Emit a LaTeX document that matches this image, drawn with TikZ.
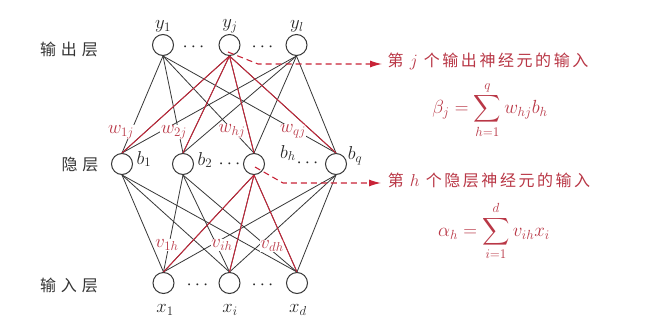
\documentclass[tikz,border=0pt]{standalone}
\usepackage{fontspec}
\usepackage{amsmath}
\usetikzlibrary{arrows.meta}
\newfontfamily\cjkwide[LetterSpace=30]{Noto Sans CJK SC}
\newfontfamily\cjkmid[LetterSpace=16]{Noto Sans CJK SC}
\definecolor{edgegray}{RGB}{55,55,55}
\definecolor{nnred}{RGB}{200,35,55}
\definecolor{txtred}{RGB}{185,55,70}
\begin{document}
\begin{tikzpicture}[x=1pt,y=-1pt,
  neuron/.style={circle,draw=edgegray,line width=1pt,minimum size=21pt,inner sep=0pt},
  conn/.style={draw=edgegray,line width=0.8pt},
  redconn/.style={draw=nnred,line width=0.9pt},
  mathlbl/.style={font=\fontsize{17.28}{20}\selectfont,text=black!85,inner sep=1pt,scale=1.08,transform shape},
  wlbl/.style={font=\fontsize{17.28}{20}\selectfont,text=txtred,fill=white,inner sep=0.6pt,scale=1.08,transform shape},
  layerlbl/.style={font=\cjkwide\fontsize{16}{18}\selectfont,text=black!80},
  redtxt/.style={font=\cjkmid\fontsize{16}{18}\selectfont,text=txtred,inner sep=0pt},
  formula/.style={font=\fontsize{17.28}{20}\selectfont,text=txtred,inner sep=0pt,scale=1.1,transform shape},
  pointer/.style={draw=nnred,line width=1.1pt,dash pattern=on 6pt off 4pt,-{Latex[length=12pt,width=7pt]}}
]
\useasboundingbox[fill=white] (0,0) rectangle (645,327);

% layer names
\node[layerlbl] (Lout) at (69,49) {输出层};
\node[layerlbl] (Lhid) at (80,165) {隐层};
\node[layerlbl] (Lin) at (69,285) {输入层};

% neurons
\node[neuron] (y1) at (163,45) {};
\node[neuron] (yj) at (229.5,45) {};
\node[neuron] (yl) at (296.5,45) {};
\node[neuron] (b1) at (122,164) {};
\node[neuron] (b2) at (183,164) {};
\node[neuron] (bh) at (254,164) {};
\node[neuron] (bq) at (336,164) {};
\node[neuron] (x1) at (163.5,283) {};
\node[neuron] (xi) at (229.5,283) {};
\node[neuron] (xd) at (297,283) {};

% gray connections
\foreach \o in {y1,yj,yl}
  \foreach \h in {b1,b2,bh,bq}
    \draw[conn] (\o.south) -- (\h.north);
\foreach \h in {b1,b2,bh,bq}
  \foreach \i in {x1,xi,xd}
    \draw[conn] (\h.south) -- (\i.north);

% weight labels
\node[wlbl] (w1) at (121,132) {$w_{1j}$};
\node[wlbl] (w2) at (174,132) {$w_{2j}$};
\node[wlbl] (wh) at (232,131) {$w_{hj}$};
\node[wlbl] (wq) at (293,131) {$w_{qj}$};
\node[wlbl] (v1) at (167,245) {$v_{1h}$};
\node[wlbl] (vi) at (222,245) {$v_{ih}$};
\node[wlbl] (vd) at (272,246) {$v_{dh}$};

% red connections
\foreach \h in {b1,b2,bh,bq}
  \draw[redconn] (yj.south) -- (\h.north);
\foreach \i in {x1,xi,xd}
  \draw[redconn] (bh.south) -- (\i.north);

% neuron labels
\node[mathlbl] (ly1) at (163,26) {$y_1$};
\node[mathlbl] (lyj) at (230,26) {$y_j$};
\node[mathlbl] (lyl) at (297,26) {$y_l$};
\node[mathlbl] (lx1) at (165,310) {$x_1$};
\node[mathlbl] (lxi) at (230,310) {$x_i$};
\node[mathlbl] (lxd) at (298,310) {$x_d$};
\node[mathlbl] (lb1) at (144,159) {$b_1$};
\node[mathlbl] (lb2) at (205,160) {$b_2$};
\node[mathlbl] (lbh) at (288,153) {$b_h$};
\node[mathlbl] (lbq) at (355,156) {$b_q$};

% dots
\node[mathlbl] (d1) at (195,47) {$\cdots$};
\node[mathlbl] (d2) at (264,47) {$\cdots$};
\node[mathlbl] (d3) at (231,164) {$\cdots$};
\node[mathlbl] (d4) at (309,163) {$\cdots$};
\node[mathlbl] (d5) at (199,285) {$\cdots$};
\node[mathlbl] (d6) at (264,285) {$\cdots$};

% annotations
\node[redtxt] (tj) at (488,61) {第 $j$ 个输出神经元的输入};
\node[redtxt] (th) at (489,180) {第 $h$ 个隐层神经元的输入};
\node[formula] (fb) at (490,110) {$\displaystyle \beta_j=\sum_{h=1}^{q} w_{hj}b_h$};
\node[formula] (fa) at (494,231) {$\displaystyle \alpha_h=\sum_{i=1}^{d} v_{ih}x_i$};

\coordinate (sj) at (228,52);
\coordinate (kj) at (258,64);
\coordinate (ej) at (382,64);
\coordinate (sh) at (255,167);
\coordinate (kh) at (283,183);
\coordinate (eh) at (381,183);
\draw[pointer] (sj) -- (kj) -- (ej);
\draw[pointer] (sh) -- (kh) -- (eh);
\end{tikzpicture}
\end{document}
